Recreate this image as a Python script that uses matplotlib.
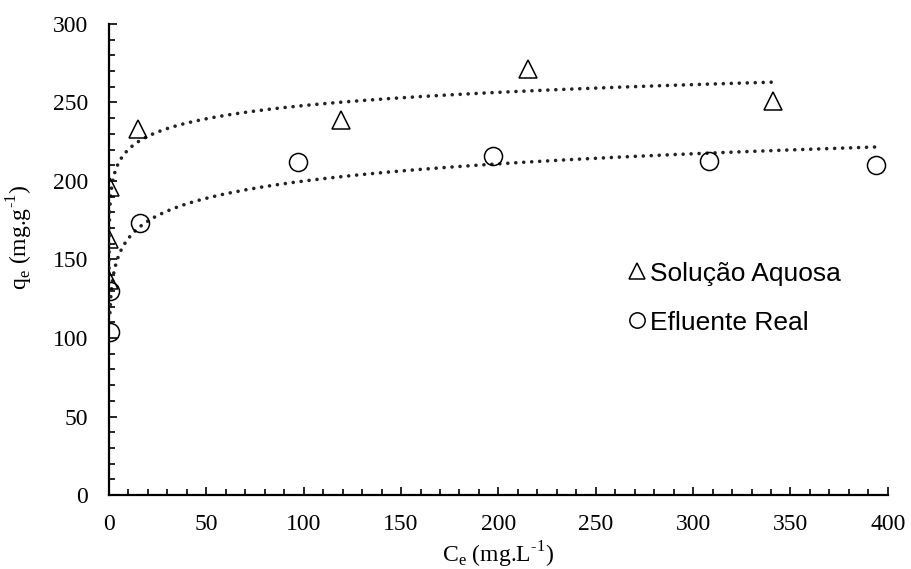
import numpy as np
import matplotlib
matplotlib.use("Agg")
import matplotlib.pyplot as plt
from matplotlib.ticker import MultipleLocator

# Dados
ce_aquosa = [0.02, 0.1, 0.6, 15, 119, 215, 341]
qe_aquosa = [137, 163, 196, 233, 239, 271, 251]

ce_efluente = [0.5, 0.7, 16, 97, 197, 308, 394]
qe_efluente = [104, 130, 173, 212, 216, 213, 210]

rotulos = ['Solução Aquosa', 'Efluente Real']

plt.rcParams['mathtext.fontset'] = 'custom'
plt.rcParams['mathtext.rm'] = 'Liberation Serif'
plt.rcParams['font.family'] = 'Liberation Serif'

fig = plt.figure(figsize=(9.12, 5.69), dpi=100)
ax = fig.add_axes([0.1195, 0.130, 0.854, 0.828])


def tendencia_log(x, y):
    # linha de tendência logarítmica (como no Excel)
    a, b = np.polyfit(np.log(x), y, 1)
    xs = np.geomspace(min(x), max(x), 400)
    return xs, a * np.log(xs) + b


for x, y in [(ce_aquosa, qe_aquosa), (ce_efluente, qe_efluente)]:
    xs, ys = tendencia_log(x, y)
    ax.plot(xs, ys, color='#222222', linewidth=2.6, linestyle=(0, (0.01, 2.2)),
            dash_capstyle='round', zorder=2)

ax.plot(ce_aquosa, qe_aquosa, linestyle='none', marker='^', markersize=13,
        markerfacecolor='none', markeredgecolor='black', markeredgewidth=1.1,
        label=rotulos[0], zorder=3)
ax.plot(ce_efluente, qe_efluente, linestyle='none', marker='o', markersize=13,
        markerfacecolor='none', markeredgecolor='black', markeredgewidth=1.1,
        label=rotulos[1], zorder=3)

ax.set_xlim(0, 400)
ax.set_ylim(0, 300)
ax.xaxis.set_major_locator(MultipleLocator(50))
ax.xaxis.set_minor_locator(MultipleLocator(10))
ax.yaxis.set_major_locator(MultipleLocator(50))
ax.yaxis.set_minor_locator(MultipleLocator(10))
ax.tick_params(which='both', direction='in', width=1.2, colors='black')
ax.tick_params(which='major', length=6, labelsize=17)
ax.tick_params(which='minor', length=4)
ax.tick_params(axis='x', pad=14)
ax.tick_params(axis='y', pad=15)

for lado in ['top', 'right']:
    ax.spines[lado].set_visible(False)
for lado in ['left', 'bottom']:
    ax.spines[lado].set_linewidth(1.6)
ax.spines['left'].set_zorder(1)

ax.set_xlabel(r'C$_\mathregular{e}$ (mg.L$^{\text{-1}}$)', fontsize=17, labelpad=3)
ax.set_ylabel(r'q$_\mathregular{e}$ (mg.g$^{\text{-1}}$)', fontsize=17)
ax.yaxis.set_label_coords(-0.095, 0.548)

leg = ax.legend(loc='upper left', bbox_to_anchor=(0.637, 0.546), frameon=False,
                prop={'family': 'Liberation Sans', 'size': 19}, markerscale=0.85,
                handlelength=0.6, handletextpad=0.2, labelspacing=0.95)

fig.savefig('out.png', dpi=100)
